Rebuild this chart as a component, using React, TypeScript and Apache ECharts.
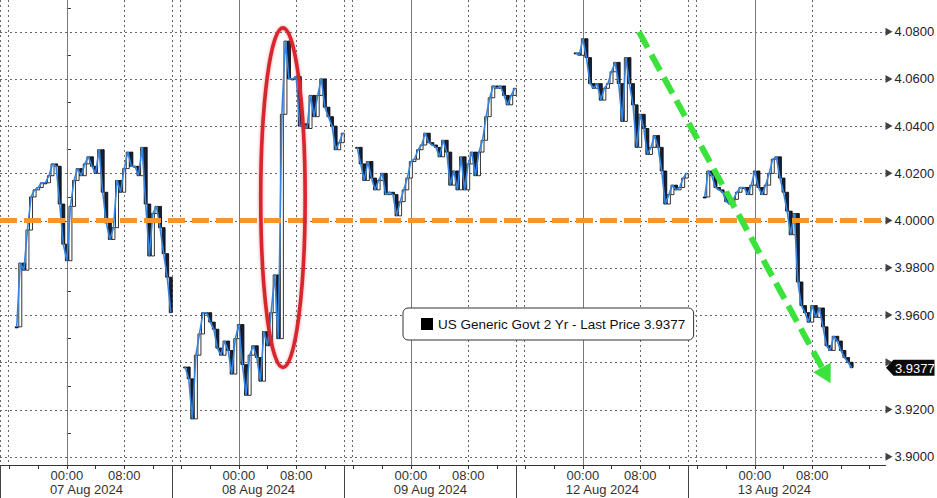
import React, { useEffect, useRef } from "react";
import * as echarts from "echarts";

// ---------- data ----------
const SERIES_NAME = "US Generic Govt 2 Yr";
const DAY_LABELS = ["07 Aug 2024", "08 Aug 2024", "09 Aug 2024", "12 Aug 2024", "13 Aug 2024"];
// hours on a trading-day axis (07 Aug 00:00 = 0, one trading day = 24 h, weekend removed)
const DAY_START_HOURS = [0, 24, 48, 72, 96];
const TIME_TICK_HOURS = [0, 8, 24, 32, 48, 56, 72, 80, 96, 104];
const MINOR_TICK_HOURS = [-8, -4, 0, 4, 8, 12, 16, 20, 24, 28, 32, 36, 40, 44, 48, 52, 56, 60, 64, 68, 72, 76, 80, 84, 88, 92, 96, 100, 104, 108, 112];
const SESSION_BREAK_HOURS = [-9.33, 14.67, 38.67, 62.67, 86.67];
const SESSION_OPEN_HOURS = [-8.25, 15.75, 39.75, 63.75, 87.75];
const DATE_LABEL_SHIFT_HOURS = 2.37;
const X_MIN = -9.33;
const X_MAX = 114.23;
const Y_MIN = 3.8965;
const Y_MAX = 4.0934;
const Y_TICKS = [3.9, 3.92, 3.94, 3.96, 3.98, 4.0, 4.02, 4.04, 4.06, 4.08];
const Y_MINOR_TICKS = [3.91, 3.93, 3.95, 3.97, 3.99, 4.01, 4.03, 4.05, 4.07, 4.09];
const REFERENCE_LEVEL = 4.0;

const BAR_HOURS = 0.5;
const SEGMENT_START_HOURS = [-7, 16.5, 40.5, 71, 89];
const SEG_07AUG = [3.955, 3.982, 3.979, 3.996, 4.010, 4.013, 4.014, 4.016, 4.016, 4.019, 4.024, 4.023, 4.007, 3.990, 3.983, 4.006, 4.017, 4.022, 4.019, 4.024, 4.027, 4.023, 4.020, 4.030, 4.012, 3.999, 3.992, 3.997, 4.017, 4.012, 4.022, 4.029, 4.023, 4.023, 4.019, 4.031, 4.007, 3.985, 4.003, 4.006, 3.997, 3.986, 3.976, 3.961];
const SEG_08AUG = [3.938, 3.933, 3.916, 3.943, 3.952, 3.961, 3.961, 3.957, 3.954, 3.946, 3.943, 3.949, 3.945, 3.935, 3.950, 3.956, 3.939, 3.926, 3.943, 3.947, 3.942, 3.932, 3.953, 3.947, 3.961, 3.977, 3.950, 4.045, 4.076, 4.060, 4.060, 4.061, 4.040, 4.041, 4.039, 4.053, 4.044, 4.053, 4.060, 4.048, 4.044, 4.040, 4.030, 4.033, 4.037];
const SEG_09AUG = [4.031, 4.024, 4.017, 4.025, 4.018, 4.013, 4.017, 4.020, 4.011, 4.012, 4.011, 4.002, 4.008, 4.013, 4.018, 4.025, 4.026, 4.030, 4.032, 4.037, 4.033, 4.032, 4.031, 4.027, 4.034, 4.029, 4.015, 4.021, 4.013, 4.027, 4.013, 4.024, 4.029, 4.019, 4.029, 4.034, 4.044, 4.052, 4.057, 4.056, 4.057, 4.053, 4.049, 4.053, 4.056];
const SEG_12AUG = [4.071, 4.070, 4.077, 4.069, 4.058, 4.056, 4.058, 4.051, 4.056, 4.058, 4.063, 4.067, 4.058, 4.042, 4.069, 4.058, 4.049, 4.031, 4.045, 4.039, 4.028, 4.031, 4.036, 4.031, 4.021, 4.007, 4.011, 4.015, 4.013, 4.014, 4.018, 4.020];
const SEG_13AUG = [4.010, 4.021, 4.019, 4.014, 4.013, 4.012, 4.008, 4.007, 4.009, 4.012, 4.014, 4.014, 4.011, 4.015, 4.021, 4.014, 4.011, 4.015, 4.020, 4.026, 4.027, 4.018, 4.012, 4.004, 3.994, 4.003, 3.974, 3.964, 3.961, 3.957, 3.964, 3.959, 3.963, 3.955, 3.947, 3.945, 3.951, 3.949, 3.945, 3.942, 3.940, 3.9377];

// annotations (data space)
const ELLIPSE_CENTER = [30.15, 4.0097];
const ELLIPSE_RADII = [3.1, 0.0719];
const ARROW_FROM = [79.83, 4.0799];
const ARROW_TO = [106.57, 3.9311];

// ---------- styles ----------
const FONT = '"Liberation Sans", Arial, sans-serif';
const BLUE = "#3584df";
const ORANGE = "#f5962a";
const GREEN = "#3be23b";
const RED = "#d8262e";

export default function App() {
  const ref = useRef<HTMLDivElement>(null);

  useEffect(() => {
    const el = ref.current!;
    const chart = echarts.init(el, null, { renderer: "svg" });
    const segments = [SEG_07AUG, SEG_08AUG, SEG_09AUG, SEG_12AUG, SEG_13AUG];
    const LAST = SEG_13AUG[SEG_13AUG.length - 1];

    const candles: number[][] = [];
    const lineSeries: any[] = [];
    segments.forEach((seg, si) => {
      const start = SEGMENT_START_HOURS[si];
      seg.forEach((v, i) => {
        candles.push([start + i * BAR_HOURS, i === 0 ? v : seg[i - 1], v]);
      });
      lineSeries.push({
        type: "line",
        name: "close" + si,
        data: seg.map((v, i) => [start + i * BAR_HOURS, v]),
        symbol: "none",
        lineStyle: { color: BLUE, width: 1.6 },
        z: 4,
        silent: true,
        emphasis: { disabled: true },
      });
    });

    const option: any = {
      animation: false,
      backgroundColor: "#fff",
      grid: { left: 0, right: 51.5, top: 0, bottom: 33, containLabel: false, outerBoundsMode: "none" },
      legend: {
        show: true,
        left: 403,
        top: 308,
        data: [{ name: SERIES_NAME, icon: "rect", itemStyle: { color: "#000", borderWidth: 0 } }],
        itemWidth: 12,
        itemHeight: 12,
        padding: [9, 8, 9, 18],
        backgroundColor: "#fff",
        borderColor: "#333",
        borderWidth: 1,
        borderRadius: 5,
        selectedMode: false,
        formatter: (name: string) => `${name} - Last Price ${LAST.toFixed(4)}`,
        textStyle: { fontSize: 13.5, color: "#111", fontFamily: FONT, lineHeight: 13 },
        z: 20,
      },
      xAxis: [
        {
          type: "value",
          min: X_MIN,
          max: X_MAX,
          position: "bottom",
          axisLine: { show: true, lineStyle: { color: "#333", width: 1 } },
          axisTick: { show: true, customValues: MINOR_TICK_HOURS, length: 4, lineStyle: { color: "#333" } },
          axisLabel: {
            customValues: TIME_TICK_HOURS,
            formatter: (v: number) => (Math.round(v) % 24 === 0 ? "00:00" : "08:00"),
            color: "#333",
            fontSize: 13,
            fontFamily: FONT,
            margin: 4,
          },
          splitLine: { show: false },
        },
        {
          type: "value",
          min: X_MIN,
          max: X_MAX,
          position: "bottom",
          axisLine: { show: false },
          axisTick: { show: false },
          axisLabel: {
            customValues: DAY_START_HOURS.map((h) => h - DATE_LABEL_SHIFT_HOURS),
            formatter: (v: number) => DAY_LABELS[Math.round((v + DATE_LABEL_SHIFT_HOURS) / 24)] || "",
            align: "left",
            color: "#333",
            fontSize: 13,
            fontFamily: FONT,
            margin: 18,
          },
          splitLine: { show: false },
        },
        {
          type: "value",
          min: X_MIN,
          max: X_MAX,
          position: "bottom",
          axisLine: { show: false },
          axisTick: { show: true, customValues: SESSION_BREAK_HOURS, length: 33, lineStyle: { color: "#444", width: 1 } },
          axisLabel: { show: false },
          splitLine: { show: false },
        },
      ],
      yAxis: {
        type: "value",
        position: "right",
        min: Y_MIN,
        max: Y_MAX,
        axisLine: { show: true, lineStyle: { color: "#333", width: 1 } },
        axisTick: { show: true, customValues: Y_MINOR_TICKS, length: 4, lineStyle: { color: "#333" } },
        axisLabel: {
          // the last-price tag covers the tick label next to it
          customValues: Y_TICKS.filter((v) => Math.abs(v - LAST) > 0.005),
          formatter: (v: number) => v.toFixed(4),
          color: "#222",
          fontSize: 13,
          fontFamily: FONT,
          margin: 9,
        },
        splitLine: { show: false },
      },
      series: [
        {
          type: "custom",
          name: SERIES_NAME,
          data: candles,
          encode: { x: 0, y: [1, 2] },
          z: 3,
          silent: true,
          itemStyle: { color: "#000" },
          renderItem: (params: any, api: any) => {
            const t = api.value(0);
            const o = api.value(1);
            const c = api.value(2);
            const p1 = api.coord([t, o]);
            const p2 = api.coord([t, c]);
            const w = 3;
            const top = Math.min(p1[1], p2[1]);
            const h = Math.max(1, Math.abs(p1[1] - p2[1]));
            return {
              type: "rect",
              shape: { x: p1[0] - w / 2, y: top, width: w, height: h },
              style: { fill: c > o ? "#fff" : "#14213d", stroke: "#000", lineWidth: 0.8 },
            };
          },
        },
        ...lineSeries,
        {
          type: "line",
          name: "level",
          data: [[X_MIN, REFERENCE_LEVEL]],
          symbol: "none",
          lineStyle: { opacity: 0 },
          silent: true,
          z: 6,
          markLine: {
            silent: true,
            symbol: ["none", "none"],
            label: { show: false },
            data: [{ yAxis: REFERENCE_LEVEL }],
            lineStyle: { color: ORANGE, width: 5, type: [17, 7] },
            emphasis: { disabled: true },
          },
        },
        {
          type: "scatter",
          name: "ticks",
          data: Y_TICKS.map((v) => [X_MAX, v]),
          symbol: "path://M0,0L1,0.5L0,1Z",
          symbolSize: [7, 8],
          symbolKeepAspect: false,
          symbolOffset: [3.5, 0],
          itemStyle: { color: "#111" },
          clip: false,
          silent: true,
          z: 7,
        },
      ],
    };

    chart.setOption(option);

    const candleIdx = 0;
    const px = (h: number, v: number) => chart.convertToPixel({ seriesIndex: candleIdx }, [h, v]) as number[];

    // plot rectangle
    const pTL = px(X_MIN, Y_MAX);
    const pBR = px(X_MAX, Y_MIN);
    const left = pTL[0];
    const right = pBR[0];
    const top = pTL[1];
    const bottom = pBR[1];
    const crisp = (v: number) => Math.round(v) + 0.5;

    const gridEls: any[] = [];
    Y_TICKS.forEach((v) => {
      const y = crisp(px(X_MIN, v)[1]);
      gridEls.push({
        type: "line",
        shape: { x1: left, y1: y, x2: right, y2: y },
        style: { stroke: "#666", lineWidth: 1, lineDash: [2, 3] },
        z: 1,
        silent: true,
      });
    });
    const dottedHours = [
      ...TIME_TICK_HOURS.filter((h) => h % 24 === 8),
      ...SESSION_BREAK_HOURS,
      ...SESSION_OPEN_HOURS,
    ];
    dottedHours.forEach((h) => {
      const x = Math.max(left + 0.5, crisp(px(h, Y_MIN)[0]));
      gridEls.push({
        type: "line",
        shape: { x1: x, y1: top, x2: x, y2: bottom },
        style: { stroke: "#666", lineWidth: 1, lineDash: [2, 3] },
        z: 1,
        silent: true,
      });
    });
    DAY_START_HOURS.forEach((h) => {
      const x = crisp(px(h, Y_MIN)[0]);
      gridEls.push({
        type: "line",
        shape: { x1: x, y1: top, x2: x, y2: bottom },
        style: { stroke: "#7a7a7a", lineWidth: 1 },
        z: 1,
        silent: true,
      });
    });

    const c = px(ELLIPSE_CENTER[0], ELLIPSE_CENTER[1]);
    const rx = Math.abs(px(ELLIPSE_CENTER[0] + ELLIPSE_RADII[0], ELLIPSE_CENTER[1])[0] - c[0]);
    const ry = Math.abs(px(ELLIPSE_CENTER[0], ELLIPSE_CENTER[1] + ELLIPSE_RADII[1])[1] - c[1]);

    const S = px(ARROW_FROM[0], ARROW_FROM[1]);
    const T = px(ARROW_TO[0], ARROW_TO[1]);
    const dx = T[0] - S[0];
    const dy = T[1] - S[1];
    const len = Math.sqrt(dx * dx + dy * dy);
    const ux = dx / len;
    const uy = dy / len;
    const headL = 18;
    const headW = 10;
    const bx = T[0] - ux * headL;
    const by = T[1] - uy * headL;

    const tag = px(X_MAX, LAST);
    const ax = tag[0];
    const ay = tag[1];

    chart.setOption({
      graphic: [
        ...gridEls,
        {
          type: "ellipse",
          shape: { cx: c[0], cy: c[1], rx, ry },
          style: { fill: "none", stroke: RED, lineWidth: 3.6, shadowBlur: 3, shadowColor: "rgba(216,38,46,0.5)" },
          z: 50,
          silent: true,
        },
        {
          type: "line",
          shape: { x1: S[0], y1: S[1], x2: bx, y2: by },
          style: { stroke: GREEN, lineWidth: 6, lineDash: [18, 8] },
          z: 50,
          silent: true,
        },
        {
          type: "polygon",
          shape: {
            points: [
              [T[0], T[1]],
              [bx - uy * headW, by + ux * headW],
              [bx + uy * headW, by - ux * headW],
            ],
          },
          style: { fill: GREEN },
          z: 50,
          silent: true,
        },
        {
          type: "group",
          x: 411,
          y: 320,
          z: 60,
          silent: true,
          children: [
            { type: "rect", shape: { x: 0.5, y: 0.5, width: 7, height: 7 }, style: { fill: "#fff", stroke: "#777", lineWidth: 1 } },
            { type: "line", shape: { x1: 2, y1: 4, x2: 6, y2: 4 }, style: { stroke: "#555", lineWidth: 1 } },
            { type: "line", shape: { x1: 4, y1: 2, x2: 4, y2: 6 }, style: { stroke: "#555", lineWidth: 1 } },
          ],
        },
        {
          type: "polygon",
          shape: {
            points: [
              [ax + 0.5, ay],
              [ax + 8, ay - 8],
              [ax + 49, ay - 8],
              [ax + 49, ay + 8],
              [ax + 8, ay + 8],
            ],
          },
          style: { fill: "#0a0a0a" },
          z: 60,
          silent: true,
        },
        {
          type: "text",
          x: ax + 9.5,
          y: ay + 0.5,
          style: { text: LAST.toFixed(4), fill: "#fff", font: `13px ${FONT}`, textAlign: "left", textVerticalAlign: "middle" },
          z: 61,
          silent: true,
        },
      ],
    });

    return () => chart.dispose();
  }, []);

  return <div ref={ref} style={{ position: "fixed", left: 0, top: 0, width: 937, height: 498, background: "#fff" }} />;
}
